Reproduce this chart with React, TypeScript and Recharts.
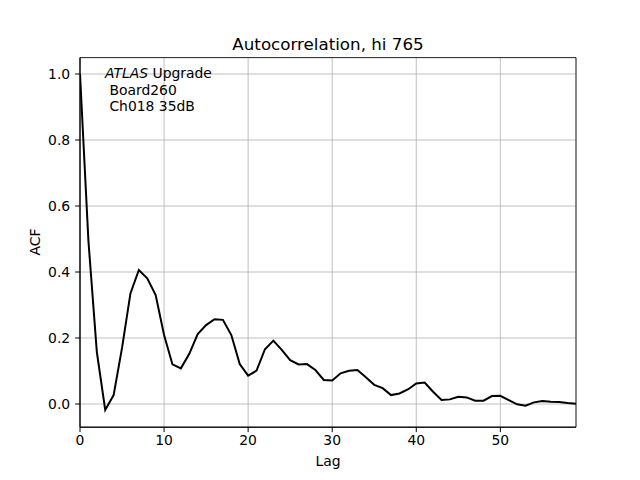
import React from 'react';
import { LineChart, Line, XAxis, YAxis, CartesianGrid, ReferenceArea } from 'recharts';

// autocorrelation values, lag 0..59
const acf = [
  1.0, 0.495, 0.158, -0.018, 0.027, 0.17, 0.335, 0.406, 0.381, 0.33,
  0.209, 0.12, 0.108, 0.152, 0.212, 0.239, 0.257, 0.255, 0.209, 0.121,
  0.086, 0.101, 0.166, 0.192, 0.164, 0.133, 0.12, 0.121, 0.103, 0.073,
  0.071, 0.093, 0.101, 0.103, 0.081, 0.058, 0.048, 0.027, 0.032, 0.044,
  0.062, 0.065, 0.037, 0.012, 0.014, 0.022, 0.02, 0.01, 0.01, 0.024,
  0.025, 0.012, -0.001, -0.005, 0.005, 0.009, 0.007, 0.006, 0.003, 0.001,
];

const xTicks = [0, 10, 20, 30, 40, 50];
const yTicks = [0, 0.2, 0.4, 0.6, 0.8, 1.0];

const data = acf.map((v, i) => ({ lag: i, acf: v }));

const font = '"DejaVu Sans", sans-serif';
const yMin = -0.0703;
const yMax = 1.0497;

export default function App() {
  return (
    <div style={{ position: 'absolute', left: 0, top: 0, width: 640, height: 480, background: '#fff', fontFamily: font }}>
      <LineChart
        width={640}
        height={480}
        data={data}
        margin={{ top: 57.6, right: 64, bottom: 22.8, left: 30 }}
      >
        <CartesianGrid stroke="#b0b0b0" strokeWidth={0.8} />
        <XAxis
          dataKey="lag"
          type="number"
          domain={[0, 59]}
          ticks={xTicks}
          height={30}
          tickSize={4.9}
          tickMargin={3}
          stroke="#000"
          tick={{ fill: '#000', fontSize: 13.9, fontFamily: font }}
          allowDataOverflow
        />
        <YAxis
          type="number"
          domain={[yMin, yMax]}
          ticks={yTicks}
          width={50}
          tickSize={4.9}
          tickMargin={4.9}
          stroke="#000"
          tickFormatter={(v: number) => v.toFixed(1)}
          tick={{ fill: '#000', fontSize: 13.9, fontFamily: font }}
          allowDataOverflow
        />
        <Line
          dataKey="acf"
          type="linear"
          stroke="#000"
          strokeWidth={2}
          dot={false}
          isAnimationActive={false}
        />
        <ReferenceArea x1={0} x2={59} y1={yMin} y2={yMax} fill="none" stroke="#000" strokeWidth={0.8} />
      </LineChart>
      <div style={{ position: 'absolute', left: 80, width: 496, top: 34, textAlign: 'center', fontSize: 16.7, lineHeight: '20px' }}>
        Autocorrelation, hi 765
      </div>
      <div style={{ position: 'absolute', left: 80, width: 496, top: 452, textAlign: 'center', fontSize: 13.9, lineHeight: '18px' }}>
        Lag
      </div>
      <div style={{ position: 'absolute', left: 35, top: 242, fontSize: 13.9, lineHeight: '18px', transform: 'translate(-50%, -50%) rotate(-90deg)' }}>
        ACF
      </div>
      <div style={{ position: 'absolute', left: 105, top: 65, fontSize: 13.9, lineHeight: '16.7px', whiteSpace: 'pre' }}>
        <div><i>ATLAS</i> Upgrade</div>
        <div> Board260</div>
        <div> Ch018 35dB</div>
      </div>
    </div>
  );
}
